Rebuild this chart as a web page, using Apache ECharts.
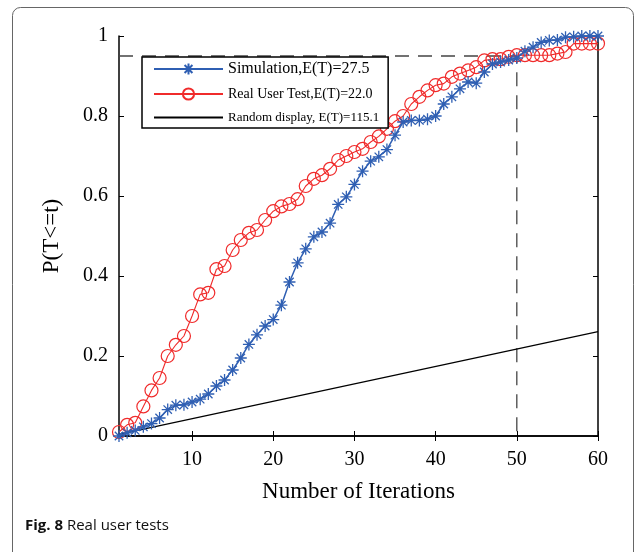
<!DOCTYPE html>
<html>
<head>
<meta charset="utf-8">
<script src="https://cdn.jsdelivr.net/npm/echarts@6.0.0/dist/echarts.min.js"></script>
<style>
  html, body { margin: 0; padding: 0; background: #fff; }
  #chart { width: 634px; height: 552px; }
</style>
</head>
<body>
<div id="chart"></div>
<script>
// iterations t = 1..60
const iterations = [
  1, 2, 3, 4, 5, 6, 7, 8, 9, 10, 11, 12, 13, 14, 15, 16, 17, 18, 19, 20,
  21, 22, 23, 24, 25, 26, 27, 28, 29, 30, 31, 32, 33, 34, 35, 36, 37, 38, 39, 40,
  41, 42, 43, 44, 45, 46, 47, 48, 49, 50, 51, 52, 53, 54, 55, 56, 57, 58, 59, 60
]

// P(T<=t)
const simulation = [
  0.0, 0.008, 0.014, 0.023, 0.031, 0.045, 0.066, 0.077, 0.078, 0.085,
  0.092, 0.105, 0.125, 0.14, 0.165, 0.195, 0.229, 0.253, 0.275, 0.291,
  0.327, 0.385, 0.433, 0.468, 0.498, 0.51, 0.532, 0.579, 0.598, 0.629,
  0.662, 0.687, 0.698, 0.716, 0.752, 0.785, 0.789, 0.789, 0.792, 0.8,
  0.83, 0.848, 0.868, 0.885, 0.882, 0.91, 0.93, 0.935, 0.94, 0.945,
  0.962, 0.972, 0.984, 0.989, 0.99, 0.997, 0.998, 1.0, 1.0, 1.0
]
const realUser = [
  0.01, 0.028, 0.033, 0.074, 0.114, 0.145, 0.2, 0.228, 0.25, 0.3,
  0.354, 0.358, 0.417, 0.425, 0.465, 0.49, 0.508, 0.515, 0.54, 0.562,
  0.574, 0.58, 0.592, 0.625, 0.643, 0.652, 0.668, 0.69, 0.7, 0.71,
  0.718, 0.735, 0.749, 0.768, 0.787, 0.8, 0.83, 0.848, 0.864, 0.877,
  0.881, 0.898, 0.906, 0.914, 0.922, 0.939, 0.942, 0.942, 0.948, 0.952,
  0.952, 0.952, 0.952, 0.952, 0.956, 0.96, 0.981, 0.981, 0.981, 0.981
]
const randomX = [1, 60]
const randomY = [0.004, 0.261]

// dashed guide: 95% level reached at t = 50
const guideX = [1, 50, 50]
const guideY = [0.95, 0.95, 0]

const xTicks = [10, 20, 30, 40, 50, 60]
const seriesNames = ['Simulation,E(T)=27.5', 'Real User Test,E(T)=22.0', 'Random display, E(T)=115.1']

const pairs = (xs, ys) => xs.map((x, i) => [x, ys[i]])

const serif = 'Liberation Serif'
const blue = '#2f5fb3'
const red = '#f02b2b'
const starPath = 'path://M0,-10L0,10M-10,0L10,0M-7,-7L7,7M-7,7L7,-7'

const chart = echarts.init(document.getElementById('chart'))

// legend rows use slightly different sizes, like the original
const legendRich = {
  a: { fontFamily: serif, fontSize: 16, color: '#000' },
  b: { fontFamily: serif, fontSize: 14, color: '#000' },
  c: { fontFamily: serif, fontSize: 13, color: '#000' }
}
const legendFormatter = (name) => {
  const i = seriesNames.indexOf(name)
  return '{' + 'abc'[i] + '|' + name + '}'
}

const option = {
  animation: false,
  backgroundColor: '#fff',
  grid: { left: 119, right: 36, top: 36, bottom: 116, containLabel: false },
  legend: {
    data: seriesNames,
    orient: 'vertical',
    left: 142,
    top: 57,
    padding: [4, 9, 4, 11],
    itemWidth: 69,
    itemHeight: 14,
    itemGap: 10,
    borderColor: '#000',
    borderWidth: 1.5,
    backgroundColor: '#fff',
    textStyle: { fontFamily: serif, fontSize: 16, color: '#000', rich: legendRich },
    formatter: legendFormatter
  },
  xAxis: [
    {
      type: 'value',
      min: 1,
      max: 60,
      name: 'Number of Iterations',
      nameLocation: 'middle',
      nameGap: 44,
      nameTextStyle: { fontFamily: serif, fontSize: 23, color: '#000' },
      axisLine: { lineStyle: { color: '#000', width: 1.5 } },
      axisTick: { inside: true, length: 5, customValues: xTicks, lineStyle: { color: '#000' } },
      axisLabel: { customValues: xTicks, fontFamily: serif, fontSize: 20, color: '#000', margin: 14 },
      splitLine: { show: false }
    },
    {
      type: 'value',
      position: 'top',
      min: 1,
      max: 60,
      axisLine: { lineStyle: { color: '#000', width: 1.5 } },
      axisTick: { inside: true, length: 5, customValues: xTicks, lineStyle: { color: '#000' } },
      axisLabel: { show: false },
      splitLine: { show: false }
    }
  ],
  yAxis: [
    {
      type: 'value',
      min: 0,
      max: 1,
      interval: 0.2,
      name: 'P(T<=t)',
      nameLocation: 'middle',
      nameGap: 56,
      nameTextStyle: { fontFamily: serif, fontSize: 23, color: '#000' },
      axisLine: { show: true, lineStyle: { color: '#000', width: 1.5 } },
      axisTick: { show: true, inside: true, length: 5, lineStyle: { color: '#000' } },
      axisLabel: { fontFamily: serif, fontSize: 20, color: '#000', margin: 11 },
      splitLine: { show: false }
    },
    {
      type: 'value',
      position: 'right',
      min: 0,
      max: 1,
      interval: 0.2,
      axisLine: { show: true, lineStyle: { color: '#000', width: 1.5 } },
      axisTick: { show: true, inside: true, length: 5, lineStyle: { color: '#000' } },
      axisLabel: { show: false },
      splitLine: { show: false }
    }
  ],
  series: [
    {
      name: 'guide',
      type: 'line',
      data: pairs(guideX, guideY),
      symbol: 'none',
      silent: true,
      lineStyle: { color: '#444', width: 1.3, type: [14, 9] },
      z: 1
    },
    {
      name: seriesNames[2],
      type: 'line',
      data: pairs(randomX, randomY),
      symbol: 'none',
      lineStyle: { color: '#000', width: 1.2 },
      itemStyle: { color: 'rgba(0,0,0,0)', borderWidth: 0 },
      z: 2
    },
    {
      name: seriesNames[1],
      type: 'line',
      data: pairs(iterations, realUser),
      symbol: 'circle',
      symbolSize: 13,
      lineStyle: { color: red, width: 1.1 },
      itemStyle: { color: 'rgba(255,255,255,0)', borderColor: red, borderWidth: 1.2 },
      z: 3
    },
    {
      name: seriesNames[0],
      type: 'line',
      data: pairs(iterations, simulation),
      symbol: starPath,
      symbolSize: 12,
      lineStyle: { color: blue, width: 1.5 },
      itemStyle: { color: blue, borderColor: blue, borderWidth: 1.3 },
      z: 4
    }
  ],
  graphic: [
    {
      type: 'rect',
      shape: { x: 12.5, y: 7.5, width: 621, height: 600, r: 8 },
      style: { fill: 'none', stroke: '#666', lineWidth: 1 },
      silent: true
    },
    {
      type: 'text',
      left: 25,
      top: 518,
      style: {
        text: '{b|Fig. 8} Real user tests',
        fill: '#111',
        font: '15px "Open Sans"',
        rich: {
          b: { fontFamily: 'Open Sans', fontWeight: 'bold', fontSize: 15, fill: '#111' }
        }
      }
    }
  ]
}

option && chart.setOption(option)
</script>
</body>
</html>
